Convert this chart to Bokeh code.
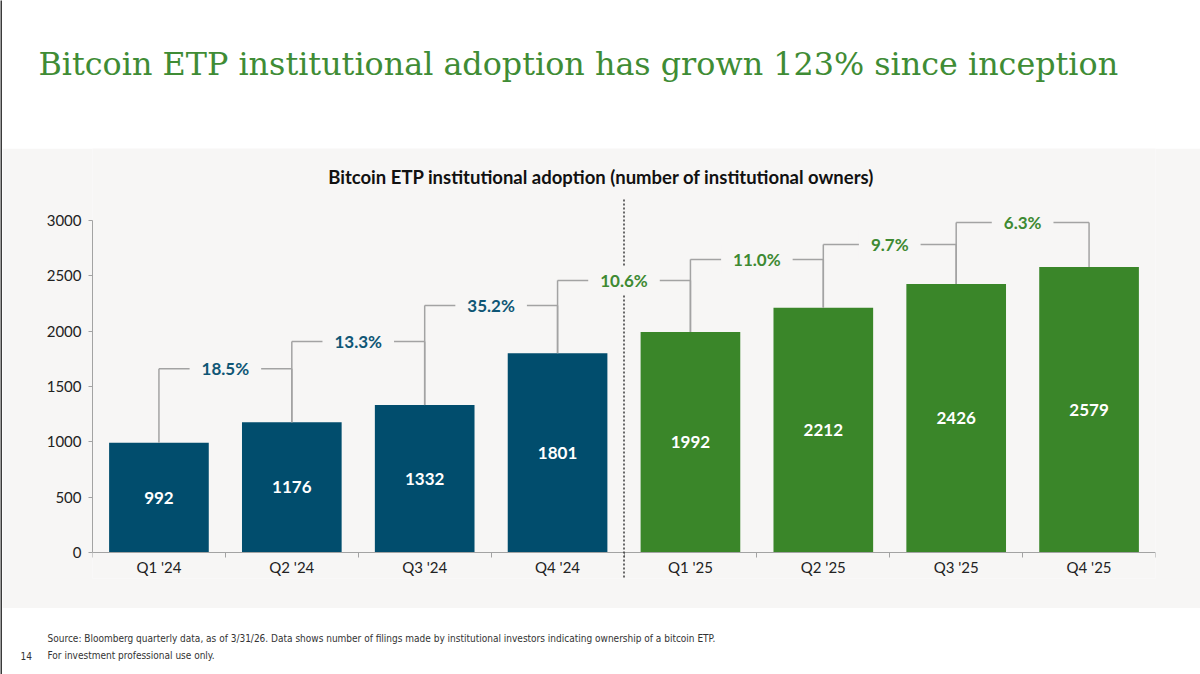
from bokeh.plotting import figure
from bokeh.layouts import column, row
from bokeh.models import Range1d, FixedTicker, Label, Arrow, ColumnDataSource
from bokeh.core.properties import value
from bokeh.embed import file_html
from bokeh.resources import INLINE

# ---------------- data ----------------
quarters = ["Q1 '24", "Q2 '24", "Q3 '24", "Q4 '24", "Q1 '25", "Q2 '25", "Q3 '25", "Q4 '25"]
owners = [992, 1176, 1332, 1801, 1992, 2212, 2426, 2579]
year_group = ["2024", "2024", "2024", "2024", "2025", "2025", "2025", "2025"]
growth_labels = ["18.5%", "13.3%", "35.2%", "10.6%", "11.0%", "9.7%", "6.3%"]
bracket_levels = [1661, 1906, 2232, 2458, 2648, 2783, 2982]
y_ticks = [0, 500, 1000, 1500, 2000, 2500, 3000]

title_text = "Bitcoin ETP institutional adoption has grown 123% since inception"
subtitle_text = "Bitcoin ETP institutional adoption (number of institutional owners)"
source_text = ("Source: Bloomberg quarterly data, as of 3/31/26. Data shows number of filings made by "
               "institutional investors indicating ownership of a bitcoin ETP.")
disclaimer_text = "For investment professional use only."
page_number = "14"

# ---------------- styles ----------------
PANEL = "#f7f6f5"
BLUE = "#014d6d"
GREEN = "#3a8629"
BLUE_TXT = "#0f5675"
GREEN_TXT = "#3e8a32"
TITLE_GREEN = "#3f8c35"
GRAY = "#a3a3a3"
EDGE = 2          # dark slide edge on the left
W = 1200 - EDGE

# ---------------- left slide edge ----------------
edge = figure(width=EDGE, height=674, x_range=Range1d(0, 1), y_range=Range1d(0, 1),
              x_axis_type=None, y_axis_type=None, toolbar_location=None,
              output_backend="svg", min_border=0, outline_line_color=None,
              background_fill_color="#3a3a3a", border_fill_color="#3a3a3a", frame_align=False)
edge.grid.visible = False

# ---------------- title strip ----------------
t = figure(width=W, height=148, x_range=Range1d(0, W), y_range=Range1d(0, 148),
           x_axis_type=None, y_axis_type=None, toolbar_location=None,
           output_backend="svg", min_border=0, outline_line_color=None,
           background_fill_color="white", border_fill_color="white", frame_align=False)
t.grid.visible = False
t.text(x=[36], y=[85], text=[title_text], text_font=value("DejaVu Serif"),
       text_font_size="31.8px", text_baseline="middle", text_align="left",
       text_color=TITLE_GREEN)

# ---------------- chart ----------------
n = len(quarters)
xs = list(range(n))
colors = [BLUE if g == "2024" else GREEN for g in year_group]

p = figure(width=W, height=460, x_range=Range1d(-0.5, n - 0.5), y_range=Range1d(-235, 3650),
           toolbar_location=None, output_backend="svg",
           min_border_left=92 - EDGE, min_border_right=45, min_border_top=0, min_border_bottom=30,
           background_fill_color=PANEL, border_fill_color=PANEL, outline_line_color=None,
           frame_align=False)
p.grid.visible = False

src = ColumnDataSource(dict(x=xs, top=owners, color=colors,
                            mid=[v / 2 for v in owners], lab=[str(v) for v in owners]))
p.vbar(x="x", top="top", bottom=0, width=0.75, fill_color="color", line_color=None, source=src)
p.text(x="x", y="mid", text="lab", source=src, text_color="white",
       text_font=value("Lato"), text_font_style="bold", text_font_size="17px",
       text_align="center", text_baseline="middle")

# brackets
seg_x0, seg_y0, seg_x1, seg_y1 = [], [], [], []
for i in range(n - 1):
    lvl = bracket_levels[i]
    seg_x0 += [i, i, i + 1]
    seg_y0 += [owners[i], lvl, lvl]
    seg_x1 += [i, i + 1, i + 1]
    seg_y1 += [lvl, lvl, owners[i + 1]]
p.segment(x0=seg_x0, y0=seg_y0, x1=seg_x1, y1=seg_y1, line_color=GRAY, line_width=1.5)

# divider between years
n24 = year_group.count("2024")
p.add_layout(Arrow(end=None, x_start=n24 - 0.5, y_start=3190, x_end=n24 - 0.5, y_end=-235,
                   line_color="#3a3a3a", line_width=1.5, line_dash="2 2"))

for i in range(n - 1):
    c = BLUE_TXT if year_group[i + 1] == "2024" else GREEN_TXT
    p.add_layout(Label(x=i + 0.5, y=bracket_levels[i], text=growth_labels[i],
                       text_align="center", text_baseline="middle",
                       text_font="Lato", text_font_style="bold", text_font_size="17px",
                       text_color=c, background_fill_color=PANEL, padding=(12, 4)))

p.add_layout(Label(x=3.33, y=3397, text=subtitle_text, text_align="center",
                   text_baseline="middle", text_font="Lato", text_font_style="bold",
                   text_font_size="18.5px", text_color="#111111"))

# axes
p.yaxis.ticker = FixedTicker(ticks=y_ticks, minor_ticks=[])
p.yaxis.bounds = (0, 3000)
p.yaxis.axis_line_color = GRAY
p.yaxis.major_tick_line_color = GRAY
p.yaxis.major_tick_in = 0
p.yaxis.major_tick_out = 4
p.yaxis.minor_tick_line_color = None
p.yaxis.major_label_standoff = 7
p.yaxis.major_label_text_font = "Lato"
p.yaxis.major_label_text_font_size = "15px"
p.yaxis.major_label_text_color = "#222222"

p.xaxis.fixed_location = 0
p.xaxis.ticker = FixedTicker(ticks=xs, minor_ticks=[i - 0.5 for i in range(n + 1)])
p.xaxis.major_label_overrides = {i: q for i, q in enumerate(quarters)}
p.xaxis.axis_line_color = GRAY
p.xaxis.major_tick_line_color = None
p.xaxis.major_tick_in = 0
p.xaxis.major_tick_out = 0
p.xaxis.minor_tick_line_color = GRAY
p.xaxis.minor_tick_in = 0
p.xaxis.minor_tick_out = 5
p.xaxis.major_label_standoff = 1
p.xaxis.major_label_text_font = "Lato"
p.xaxis.major_label_text_font_size = "15px"
p.xaxis.major_label_text_color = "#222222"

# ---------------- footnote strip ----------------
f = figure(width=W, height=66, x_range=Range1d(0, W), y_range=Range1d(0, 66),
           x_axis_type=None, y_axis_type=None, toolbar_location=None,
           output_backend="svg", min_border=0, outline_line_color=None,
           background_fill_color="white", border_fill_color="white", frame_align=False)
f.grid.visible = False
f.text(x=[45, 45, 18], y=[36, 19, 19], text=[source_text, disclaimer_text, page_number],
       text_font=value("DejaVu Sans Condensed"), text_font_size="10px",
       text_baseline="middle", text_align="left", text_color="#333333")

layout = row(edge, column(t, p, f, spacing=0), spacing=0)
open("out.html", "w").write(file_html(layout, INLINE))
